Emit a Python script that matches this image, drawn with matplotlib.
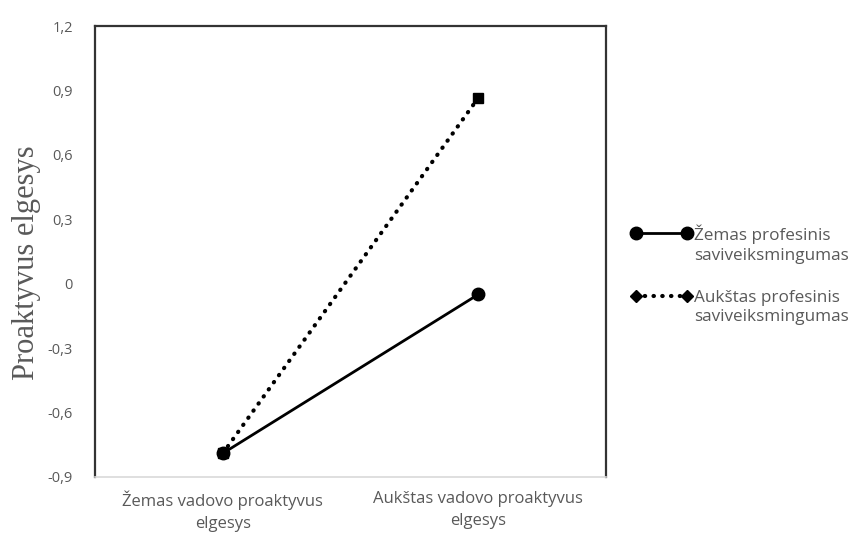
import matplotlib
matplotlib.use("Agg")
import matplotlib.pyplot as plt
from matplotlib.lines import Line2D
from matplotlib.legend_handler import HandlerLine2D

categories = ["Žemas vadovo proaktyvus\nelgesys", "Aukštas vadovo proaktyvus\nelgesys"]
low_self_eff = [-0.79, -0.05]
high_self_eff = [-0.79, 0.865]
series_labels = ["Žemas profesinis\nsaviveiksmingumas", "Aukštas profesinis\nsaviveiksmingumas"]
yticks = [-0.9, -0.6, -0.3, 0, 0.3, 0.6, 0.9, 1.2]
ytick_labels = ["-0,9", "-0,6", "-0,3", "0", "0,3", "0,6", "0,9", "1,2"]

gray = "#595959"
plt.rcParams['font.family'] = ['Open Sans', 'DejaVu Sans']

fig = plt.figure(figsize=(8.51, 5.36), dpi=100)
ax = fig.add_axes([95/851, 1-477/536, (606-95)/851, (477-26)/536])

dotted = (0, (0.1, 2.0))
x = [1, 2]
ax.plot(x, low_self_eff, color="black", lw=2, marker="o", markersize=9, solid_capstyle="round")
ax.plot(x, high_self_eff, color="black", lw=3, linestyle=dotted, marker="s", markersize=7.5,
        dash_capstyle="round")

ax.set_xlim(0.5, 2.5)
ax.set_ylim(-0.9, 1.2)
ax.set_yticks(yticks)
ax.set_yticklabels(ytick_labels, color=gray, fontsize=10.5)
ax.set_xticks(x)
ax.set_xticklabels(categories, color=gray, fontsize=12, linespacing=1.5)
ax.tick_params(axis="y", length=0, pad=16)
ax.tick_params(axis="x", length=0, pad=10)

for s in ["left", "top", "right"]:
    ax.spines[s].set_color("#333333")
    ax.spines[s].set_linewidth(1.6)
ax.spines["bottom"].set_color("#d9d9d9")
ax.spines["bottom"].set_linewidth(1.2)

ax.set_ylabel("Proaktyvus elgesys", family=["Liberation Serif"], fontsize=22, color=gray)
ax.yaxis.set_label_coords(-0.105, 0.475)


class TopLineHandler(HandlerLine2D):
    def create_artists(self, legend, orig_handle, xdescent, ydescent, width, height, fontsize, trans):
        return super().create_artists(legend, orig_handle, xdescent, ydescent - 16,
                                      width, height, fontsize, trans)


handles = [
    Line2D([0], [0], color="black", lw=2, marker="o", markersize=9),
    Line2D([0], [0], color="black", lw=3, linestyle=dotted, marker="D", markersize=6.5,
           dash_capstyle="round"),
]
hm = {h: TopLineHandler(numpoints=2) for h in handles}
leg = fig.legend(handles, series_labels, loc="center left", bbox_to_anchor=(631/851, 1-275/536),
                 frameon=False, fontsize=12.3, handlelength=3.6, handletextpad=0.1,
                 labelspacing=1.5, labelcolor=gray, numpoints=2, borderaxespad=0,
                 borderpad=0, handler_map=hm)
for t in leg.get_texts():
    t.set_linespacing(1.3)

fig.savefig("out.png", dpi=100)
